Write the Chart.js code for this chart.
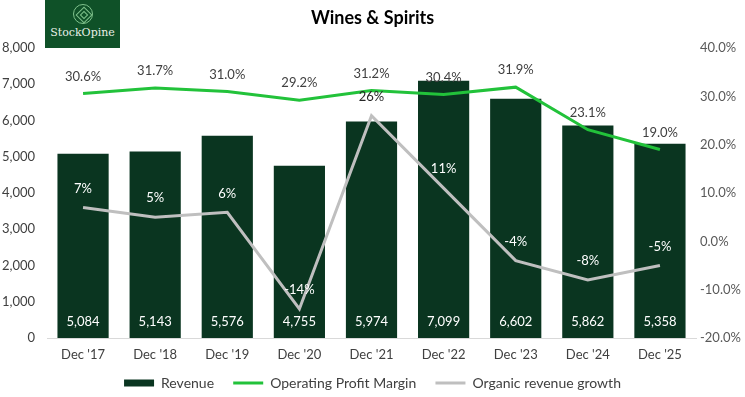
<!DOCTYPE html>
<html>
<head>
<meta charset="utf-8">
<script src="https://cdn.jsdelivr.net/npm/chart.js@4.4.1/dist/chart.umd.min.js"></script>
<style>
  html, body { margin: 0; padding: 0; background: #fff; }
  #wrap { position: relative; width: 745px; height: 397px; }
  #title {
    position: absolute; left: 0; top: 6px; width: 745px; text-align: center;
    font: bold 18px Lato, "Open Sans", sans-serif; color: #000;
  }
  #logo {
    position: absolute; left: 45px; top: 0; width: 75px; height: 48px;
    background: #0f5128; color: #e8efe6; font-family: "DejaVu Serif", serif;
    font-size: 11px; text-align: center; box-sizing: border-box; padding-top: 4px;
  }
  #logo .mark {
    width: 20px; height: 20px; margin: 0 auto 2px; border: 1px solid #7fc28c;
    border-radius: 50%; position: relative; box-sizing: border-box;
  }
  #logo .mark:before, #logo .mark:after {
    content: ""; position: absolute; border: 1px solid #7fc28c; transform: rotate(45deg);
  }
  #logo .mark:before { left: 4px; top: 4px; width: 10px; height: 10px; }
  #logo .mark:after { left: 7px; top: 7px; width: 4px; height: 4px; }
</style>
</head>
<body>
<div id="wrap">
  <canvas id="chart" width="745" height="397"></canvas>
  <div id="title">Wines &amp; Spirits</div>
  <div id="logo"><div class="mark"></div>StockOpine</div>
</div>
<script>
const categories = ["Dec '17", "Dec '18", "Dec '19", "Dec '20", "Dec '21", "Dec '22", "Dec '23", "Dec '24", "Dec '25"];
const revenue = [5084, 5143, 5576, 4755, 5974, 7099, 6602, 5862, 5358];
const opMargin = [30.6, 31.7, 31.0, 29.2, 31.2, 30.4, 31.9, 23.1, 19.0];
const organicGrowth = [7, 5, 6, -14, 26, 11, -4, -8, -5];

const FONT = "Lato, 'Open Sans', sans-serif";
const fmt = (n) => n.toString().replace(/\B(?=(\d{3})+(?!\d))/g, ',');

// value labels drawn by hand, there is no datalabels plugin here
const labelPlugin = {
  id: 'valueLabels',
  afterDatasetsDraw(chart) {
    const c = chart.ctx;
    c.save();
    c.font = '13px ' + FONT;
    c.textAlign = 'center';
    c.textBaseline = 'middle';
    const yBottom = chart.scales.y.getPixelForValue(0);
    const bars = chart.getDatasetMeta(0).data;
    bars.forEach((el, i) => {
      c.fillStyle = '#ffffff';
      c.fillText(fmt(revenue[i]), el.x, yBottom - 16);
    });
    chart.getDatasetMeta(1).data.forEach((el, i) => {
      c.fillStyle = '#404040';
      c.fillText(opMargin[i].toFixed(1) + '%', el.x, el.y - 17);
    });
    chart.getDatasetMeta(2).data.forEach((el, i) => {
      const ly = el.y - 19;
      // white when the label sits on a bar, dark otherwise
      c.fillStyle = ly > bars[i].y + 6 ? '#ffffff' : '#262626';
      c.fillText(organicGrowth[i] + '%', el.x, ly);
    });
    c.restore();
  }
};

// a couple of trailing spaces widen the gap between legend entries
const GAP = '\u00a0\u00a0';

new Chart(document.getElementById('chart'), {
  type: 'bar',
  data: {
    labels: categories,
    datasets: [
      {
        type: 'bar', label: 'Revenue', data: revenue, yAxisID: 'y',
        backgroundColor: '#0a3520', barPercentage: 0.71, categoryPercentage: 1,
        order: 3
      },
      {
        type: 'line', label: 'Operating Profit Margin', data: opMargin, yAxisID: 'y1',
        borderColor: '#22c23a', backgroundColor: '#22c23a', borderWidth: 3,
        pointRadius: 0, tension: 0, order: 1
      },
      {
        type: 'line', label: 'Organic revenue growth', data: organicGrowth, yAxisID: 'y1',
        borderColor: '#bfbfbf', backgroundColor: '#bfbfbf', borderWidth: 3,
        pointRadius: 0, tension: 0, order: 2
      }
    ]
  },
  options: {
    responsive: false,
    animation: false,
    layout: { padding: { left: 0, right: 0, top: 48, bottom: -3 } },
    plugins: {
      title: { display: false },
      legend: {
        position: 'bottom',
        labels: {
          usePointStyle: true, pointStyleWidth: 30, boxHeight: 7,
          color: '#404040', font: { family: FONT, size: 14 }, padding: 12,
          generateLabels(chart) {
            return chart.data.datasets.map((ds, i) => ({
              text: ds.label + (i < 2 ? GAP : ''), datasetIndex: i,
              fillStyle: ds.backgroundColor, strokeStyle: ds.borderColor || ds.backgroundColor,
              lineWidth: ds.type === 'line' ? 3 : 0,
              pointStyle: ds.type === 'line' ? 'line' : 'rect',
              fontColor: '#404040'
            }));
          }
        }
      },
      tooltip: { enabled: false }
    },
    scales: {
      x: {
        grid: { display: false, drawTicks: false },
        border: { color: '#d9d9d9' },
        ticks: { color: '#404040', font: { family: FONT, size: 13 }, padding: 9 },
        afterFit: (s) => { s.height = 26; }
      },
      y: {
        position: 'left', min: 0, max: 8000,
        grid: { display: false, drawTicks: false },
        border: { display: false },
        ticks: { stepSize: 1000, color: '#404040', font: { family: FONT, size: 13 }, padding: 12, callback: (v) => fmt(v) },
        afterFit: (s) => { s.width = 47; }
      },
      y1: {
        position: 'right', min: -20, max: 40,
        grid: { display: false, drawTicks: false },
        border: { display: false },
        ticks: { stepSize: 10, color: '#595959', font: { family: FONT, size: 13 }, padding: 4, callback: (v) => v.toFixed(1) + '%' },
        afterFit: (s) => { s.width = 49; }
      }
    }
  },
  plugins: [labelPlugin]
});
</script>
</body>
</html>
